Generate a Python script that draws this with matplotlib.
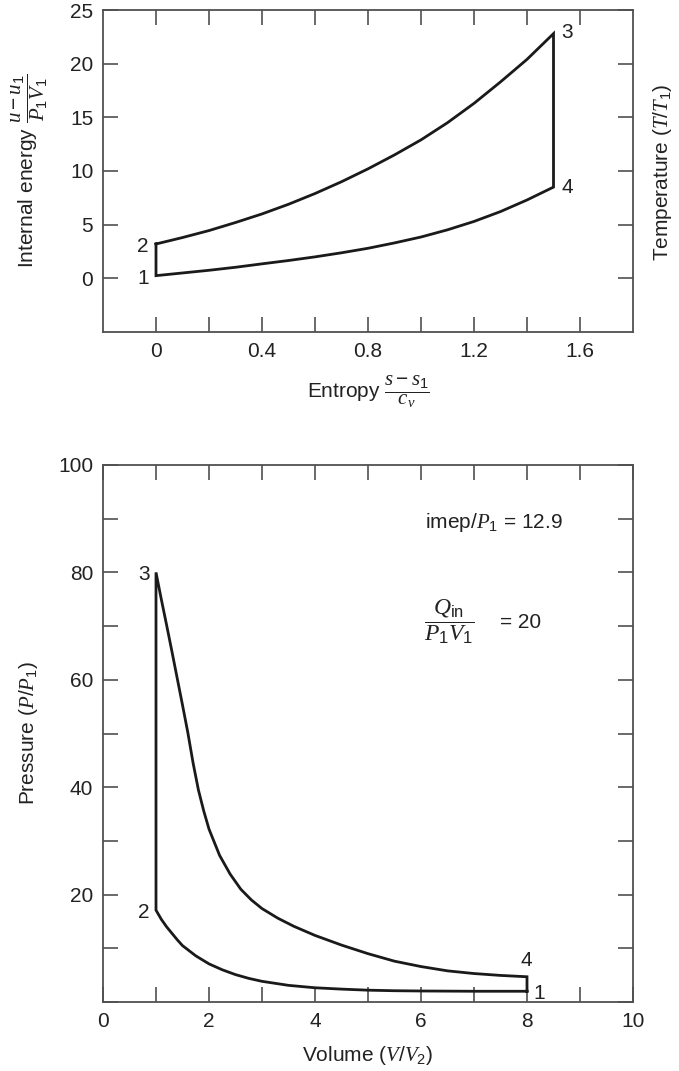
import matplotlib
matplotlib.use('Agg')
import matplotlib.pyplot as plt
import numpy as np

plt.rcParams['font.family'] = ['Liberation Sans', 'DejaVu Sans']
plt.rcParams['mathtext.fontset'] = 'custom'
plt.rcParams['mathtext.rm'] = 'Liberation Sans'
plt.rcParams['mathtext.it'] = 'Liberation Serif:italic'
plt.rcParams['mathtext.bf'] = 'Liberation Sans:bold'

# u-s diagram
s_pts = [0, 0.1, 0.2, 0.3, 0.4, 0.5, 0.6, 0.7, 0.8, 0.9, 1.0, 1.1, 1.2, 1.3, 1.4, 1.5]
u_lower = [0.25, 0.5, 0.75, 1.03, 1.35, 1.66, 2.0, 2.38, 2.8, 3.3, 3.85, 4.52, 5.3, 6.22, 7.3, 8.5]       # 1 -> 4
u_upper = [3.2, 3.8, 4.45, 5.2, 6.0, 6.9, 7.9, 9.0, 10.2, 11.5, 12.9, 14.5, 16.3, 18.3, 20.4, 22.8]     # 2 -> 3

# P-V diagram
V_comp = [1.0, 1.1, 1.2, 1.3, 1.4, 1.5, 1.75, 2.0, 2.25, 2.5, 2.75, 3.0, 3.5, 4.0, 4.5, 5.0, 5.5, 6.0, 7.0, 8.0]
P_comp = [17.1, 15.4, 14.0, 12.8, 11.6, 10.5, 8.6, 7.1, 6.0, 5.1, 4.4, 3.85, 3.1, 2.65, 2.4, 2.2, 2.1, 2.05, 2.0, 2.0]
V_exp = [1.0, 1.1, 1.2, 1.3, 1.4, 1.5, 1.6, 1.7, 1.8, 1.9, 2.0, 2.2, 2.4, 2.6, 2.8, 3.0,
         3.3, 3.6, 4.0, 4.5, 5.0, 5.5, 6.0, 6.5, 7.0, 7.5, 8.0]
P_exp = [80, 75, 70.2, 65.3, 60.3, 55.3, 50.2, 44.5, 39.5, 35.6, 32.2, 27.3, 23.8, 21.0, 19.0, 17.4,
         15.6, 14.1, 12.4, 10.6, 9.0, 7.6, 6.6, 5.8, 5.3, 4.95, 4.7]

us_xticks = [0, 0.2, 0.4, 0.6, 0.8, 1.0, 1.2, 1.4, 1.6]
us_xlabels = ['0', '', '0.4', '', '0.8', '', '1.2', '', '1.6']
us_yticks = [0, 5, 10, 15, 20, 25]
pv_xticks = list(range(0, 11))
pv_xlabels = ['0', '', '2', '', '4', '', '6', '', '8', '', '10']
pv_yticks = list(range(0, 101, 10))
pv_ylabels = ['', '', '20', '', '40', '', '60', '', '80', '', '100']

line_c = '#1a1a1a'
spine_c = '#505050'
txt_c = '#222222'
fs = 15

fig = plt.figure(figsize=(6.79, 10.71), dpi=100)
ax1 = fig.add_axes([103/679, (1071-332)/1071, 530/679, 322/1071])
ax2 = fig.add_axes([103/679, (1071-1002)/1071, 530/679, 537/1071])

for ax in (ax1, ax2):
    for sp in ax.spines.values():
        sp.set_color(spine_c)
        sp.set_linewidth(1.3)
    ax.tick_params(direction='in', length=11, width=1.2, color=spine_c,
                   top=True, right=True, labelsize=fs, labelcolor=txt_c, pad=7)

# --- top: internal energy vs entropy
s_cycle = s_pts + s_pts[::-1] + [s_pts[0]]
u_cycle = u_upper + u_lower[::-1] + [u_upper[0]]
ax1.plot(s_cycle, u_cycle, color=line_c, lw=2.0, solid_joinstyle='miter')
ax1.set_xlim(-0.2, 1.8)
ax1.set_ylim(-5, 25)
ax1.set_xticks(us_xticks)
ax1.set_xticklabels(us_xlabels)
ax1.set_yticks(us_yticks)
ax1.set_yticklabels([str(v) for v in us_yticks])

ax1.text(-0.025, 0.0, '1', ha='right', va='center', fontsize=fs, color=txt_c)
ax1.text(-0.03, 3.0, '2', ha='right', va='center', fontsize=fs, color=txt_c)
ax1.text(1.53, 22.9, '3', ha='left', va='center', fontsize=fs, color=txt_c)
ax1.text(1.53, 8.5, '4', ha='left', va='center', fontsize=fs, color=txt_c)

ax1.set_ylabel(r'Internal energy $\dfrac{u - u_1}{P_1V_1}$', fontsize=fs, color=txt_c, va='center')
ax1.yaxis.set_label_coords(-0.138, 0.5)
ax1.set_xlabel(r'Entropy $\dfrac{s - s_1}{c_v}$', fontsize=fs, color=txt_c, va='center')
ax1.xaxis.set_label_coords(0.5, -0.186)
ax1.text(1.055, 0.497, r'Temperature $(T/T_1)$', transform=ax1.transAxes, rotation=90,
         ha='center', va='center', fontsize=fs, color=txt_c)

# --- bottom: pressure vs volume
V_cycle = V_comp[::-1] + V_exp + [V_comp[-1]]
P_cycle = P_comp[::-1] + P_exp + [P_comp[-1]]
ax2.plot(V_cycle, P_cycle, color=line_c, lw=2.0, solid_joinstyle='miter')
ax2.set_xlim(0, 10)
ax2.set_ylim(0, 100)
ax2.set_xticks(pv_xticks)
ax2.set_xticklabels(pv_xlabels)
ax2.set_yticks(pv_yticks)
ax2.set_yticklabels(pv_ylabels)

ax2.text(0.88, 79.6, '3', ha='right', va='center', fontsize=fs, color=txt_c)
ax2.text(0.88, 16.6, '2', ha='right', va='center', fontsize=fs, color=txt_c)
ax2.text(7.98, 7.8, '4', ha='center', va='center', fontsize=fs, color=txt_c)
ax2.text(8.12, 1.6, '1', ha='left', va='center', fontsize=fs, color=txt_c)

ax2.text(6.08, 89.2, r'imep/$P_1$ = 12.9', ha='left', va='center', fontsize=fs, color=txt_c)
ax2.text(6.05, 70.8, r'$\dfrac{Q_{\mathrm{in}}}{P_1V_1}$', ha='left', va='center', fontsize=17, color=txt_c)
ax2.text(7.5, 70.6, '= 20', ha='left', va='center', fontsize=fs, color=txt_c)

ax2.set_ylabel(r'Pressure $(P/P_1)$', fontsize=fs, color=txt_c, va='center')
ax2.yaxis.set_label_coords(-0.14, 0.5)
ax2.set_xlabel(r'Volume $(V/V_2)$', fontsize=fs, color=txt_c, va='center')
ax2.xaxis.set_label_coords(0.5, -0.099)

fig.savefig('out.png', dpi=100)
